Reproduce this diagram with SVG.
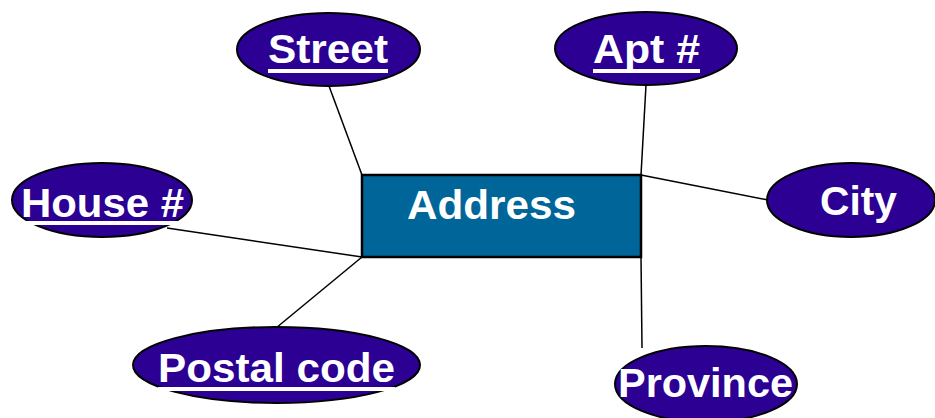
<svg xmlns="http://www.w3.org/2000/svg" width="935" height="418" viewBox="0 0 935 418">
<style>
.attr{fill:#2B0092;stroke:#000;stroke-width:2}
.ent{fill:#006699;stroke:#000;stroke-width:2.5}
.lbl{font-family:"Liberation Sans",Arial,sans-serif;font-weight:bold;font-size:40px;fill:#fff}
.ul{fill:#fff}
.conn line{stroke:#000;stroke-width:1.5}
</style>
<rect width="935" height="418" fill="#fff"/>
<g id="connectors" class="conn">
<line x1="329" y1="86" x2="362" y2="175"/>
<line x1="646" y1="85" x2="641" y2="175"/>
<line x1="641" y1="175" x2="768" y2="200"/>
<line x1="167" y1="228" x2="362" y2="257"/>
<line x1="276" y1="328" x2="362" y2="257"/>
<line x1="641" y1="257" x2="642" y2="348"/>
</g>
<g id="address">
<rect class="ent" x="362" y="175" width="279" height="82"/>
<text class="lbl" x="407" y="219" textLength="169" lengthAdjust="spacingAndGlyphs">Address</text>
</g>
<g id="street">
<ellipse class="attr" cx="328.5" cy="49.5" rx="91.5" ry="36.5"/>
<text class="lbl" x="268" y="63" textLength="120" lengthAdjust="spacingAndGlyphs">Street</text>
<rect class="ul" x="268" y="69" width="120" height="4"/>
</g>
<g id="apt">
<ellipse class="attr" cx="646" cy="48.5" rx="91" ry="36.5"/>
<text class="lbl" x="593" y="63" textLength="107" lengthAdjust="spacingAndGlyphs">Apt #</text>
<rect class="ul" x="593" y="69" width="107" height="4"/>
</g>
<g id="house">
<ellipse class="attr" cx="102" cy="200" rx="90" ry="37"/>
<text class="lbl" x="21" y="217" textLength="163" lengthAdjust="spacingAndGlyphs">House #</text>
<rect class="ul" x="21" y="221" width="163" height="4"/>
</g>
<g id="city">
<ellipse class="attr" cx="851" cy="200" rx="84" ry="37"/>
<text class="lbl" x="820" y="215" textLength="77" lengthAdjust="spacingAndGlyphs">City</text>
</g>
<g id="postal">
<ellipse class="attr" cx="276.5" cy="365" rx="143.5" ry="38"/>
<text class="lbl" x="158" y="382" textLength="237" lengthAdjust="spacingAndGlyphs">Postal code</text>
<rect class="ul" x="158" y="387" width="237" height="4"/>
</g>
<g id="province">
<ellipse class="attr" cx="706" cy="384" rx="91" ry="38"/>
<text class="lbl" x="618" y="397" textLength="175" lengthAdjust="spacingAndGlyphs">Province</text>
</g>
</svg>
